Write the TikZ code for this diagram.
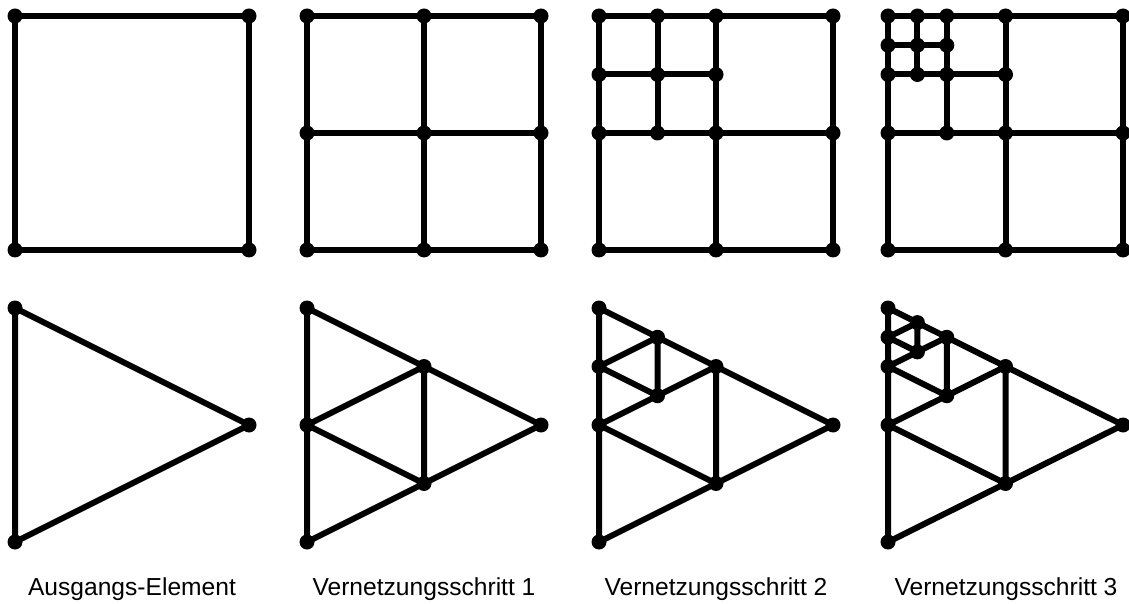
\documentclass[tikz,border=0pt]{standalone}
\usepackage{fontspec}
\setmainfont{Liberation Sans}
\usepackage{tikz}
\usetikzlibrary{backgrounds}
\tikzset{
  knot/.style={
    circle, fill=black, inner sep=0pt, minimum size=7.5pt
  },
  mesh/.style={line width=3pt, line join=round},
  lbl/.style={anchor=base, font=\fontsize{12.3}{15}\selectfont}
}

\begin{document}
\begin{tikzpicture}[x=0.5pt, y=-0.5pt]
\useasboundingbox (0,0) rectangle (1129,604);

% Row 1 — quadrilateral, initial element
\node[knot] (s1-00) at (15,16)  {};  \node[knot] (s1-80) at (249,16)  {};
\node[knot] (s1-08) at (15,250) {};  \node[knot] (s1-88) at (249,250) {};

% Row 1 — step 1
\node[knot] (s2-00) at (307,16)  {}; \node[knot] (s2-40) at (424,16)  {}; \node[knot] (s2-80) at (541,16)  {};
\node[knot] (s2-04) at (307,133) {}; \node[knot] (s2-44) at (424,133) {}; \node[knot] (s2-84) at (541,133) {};
\node[knot] (s2-08) at (307,250) {}; \node[knot] (s2-48) at (424,250) {}; \node[knot] (s2-88) at (541,250) {};

% Row 1 — step 2
\node[knot] (s3-00) at (599,16)    {}; \node[knot] (s3-20) at (657.5,16)    {};
\node[knot] (s3-40) at (716,16)    {}; \node[knot] (s3-80) at (833,16)      {};
\node[knot] (s3-02) at (599,74.5)  {}; \node[knot] (s3-22) at (657.5,74.5)  {}; \node[knot] (s3-42) at (716,74.5) {};
\node[knot] (s3-04) at (599,133)   {}; \node[knot] (s3-24) at (657.5,133)   {};
\node[knot] (s3-44) at (716,133)   {}; \node[knot] (s3-84) at (833,133)     {};
\node[knot] (s3-08) at (599,250)   {}; \node[knot] (s3-48) at (716,250)     {}; \node[knot] (s3-88) at (833,250)  {};

% Row 1 — step 3
\node[knot] (s4-00) at (888,16)    {}; \node[knot] (s4-10) at (917.4,16)    {}; \node[knot] (s4-20) at (946.8,16) {};
\node[knot] (s4-40) at (1005.5,16) {}; \node[knot] (s4-80) at (1123,16)     {};
\node[knot] (s4-01) at (888,45.25) {}; \node[knot] (s4-11) at (917.4,45.25) {}; \node[knot] (s4-21) at (946.8,45.25) {};
\node[knot] (s4-02) at (888,74.5)  {}; \node[knot] (s4-12) at (917.4,74.5)  {};
\node[knot] (s4-22) at (946.8,74.5) {}; \node[knot] (s4-42) at (1005.5,74.5) {};
\node[knot] (s4-04) at (888,133)   {}; \node[knot] (s4-24) at (946.8,133)   {};
\node[knot] (s4-44) at (1005.5,133) {}; \node[knot] (s4-84) at (1123,133)   {};
\node[knot] (s4-08) at (888,250)   {}; \node[knot] (s4-48) at (1005.5,250)  {}; \node[knot] (s4-88) at (1123,250) {};

% Row 2 — triangle, initial element
\node[knot] (t1a) at (15,308) {}; \node[knot] (t1b) at (15,542) {}; \node[knot] (t1c) at (249,425) {};

% Row 2 — step 1
\node[knot] (t2a) at (307,308) {};   \node[knot] (t2b) at (307,542) {};   \node[knot] (t2c) at (541,425) {};
\node[knot] (t2m) at (307,425) {};   \node[knot] (t2p) at (424,366.5) {}; \node[knot] (t2r) at (424,483.5) {};

% Row 2 — step 2
\node[knot] (t3a) at (599,308) {};   \node[knot] (t3b) at (599,542) {};   \node[knot] (t3c) at (833,425) {};
\node[knot] (t3m) at (599,425) {};   \node[knot] (t3p) at (716,366.5) {}; \node[knot] (t3r) at (716,483.5) {};
\node[knot] (t3mm) at (599,366.5) {};
\node[knot] (t3pp) at (657.5,337.25) {};
\node[knot] (t3rr) at (657.5,395.75) {};

% Row 2 — step 3
\node[knot] (t4a) at (888,308) {};   \node[knot] (t4b) at (888,542) {};      \node[knot] (t4c) at (1123,425) {};
\node[knot] (t4m) at (888,425) {};   \node[knot] (t4p) at (1005.5,366.5) {}; \node[knot] (t4r) at (1005.5,483.5) {};
\node[knot] (t4mm) at (888,366.5) {};
\node[knot] (t4pp) at (946.75,337.25) {};
\node[knot] (t4rr) at (946.75,395.75) {};
\node[knot] (t4mmm) at (888,337.25) {};
\node[knot] (t4ppp) at (917.4,322.6) {};
\node[knot] (t4rrr) at (917.4,351.9) {};

% Captions
\node[lbl] (lab1) at (132,595)  {Ausgangs-Element};
\node[lbl] (lab2) at (424,595)  {Vernetzungsschritt 1};
\node[lbl] (lab3) at (716,595)  {Vernetzungsschritt 2};
\node[lbl] (lab4) at (1006,595) {Vernetzungsschritt 3};

% Element edges, behind the knots
\begin{scope}[on background layer]
  \draw[mesh] (s1-00.center) -- (s1-80.center) -- (s1-88.center) -- (s1-08.center) -- cycle;

  \draw[mesh] (s2-00.center) -- (s2-80.center) -- (s2-88.center) -- (s2-08.center) -- cycle;
  \draw[mesh] (s2-04.center) -- (s2-84.center);
  \draw[mesh] (s2-40.center) -- (s2-48.center);

  \draw[mesh] (s3-00.center) -- (s3-80.center) -- (s3-88.center) -- (s3-08.center) -- cycle;
  \draw[mesh] (s3-04.center) -- (s3-84.center);
  \draw[mesh] (s3-40.center) -- (s3-48.center);
  \draw[mesh] (s3-02.center) -- (s3-42.center);
  \draw[mesh] (s3-20.center) -- (s3-24.center);

  \draw[mesh] (s4-00.center) -- (s4-80.center) -- (s4-88.center) -- (s4-08.center) -- cycle;
  \draw[mesh] (s4-04.center) -- (s4-84.center);
  \draw[mesh] (s4-40.center) -- (s4-48.center);
  \draw[mesh] (s4-02.center) -- (s4-42.center);
  \draw[mesh] (s4-20.center) -- (s4-24.center);
  \draw[mesh] (s4-01.center) -- (s4-21.center);
  \draw[mesh] (s4-10.center) -- (s4-12.center);

  \draw[mesh] (t1a.center) -- (t1b.center) -- (t1c.center) -- cycle;

  \draw[mesh] (t2a.center) -- (t2b.center) -- (t2c.center) -- cycle;
  \draw[mesh] (t2p.center) -- (t2m.center) -- (t2r.center) -- cycle;

  \draw[mesh] (t3a.center) -- (t3b.center) -- (t3c.center) -- cycle;
  \draw[mesh] (t3p.center) -- (t3m.center) -- (t3r.center) -- cycle;
  \draw[mesh] (t3pp.center) -- (t3mm.center) -- (t3rr.center) -- cycle;

  \draw[mesh] (t4a.center) -- (t4b.center) -- (t4c.center) -- cycle;
  \draw[mesh] (t4p.center) -- (t4m.center) -- (t4r.center) -- cycle;
  \draw[mesh] (t4pp.center) -- (t4mm.center) -- (t4rr.center) -- cycle;
  \draw[mesh] (t4ppp.center) -- (t4mmm.center) -- (t4rrr.center) -- cycle;
\end{scope}

\end{tikzpicture}
\end{document}
